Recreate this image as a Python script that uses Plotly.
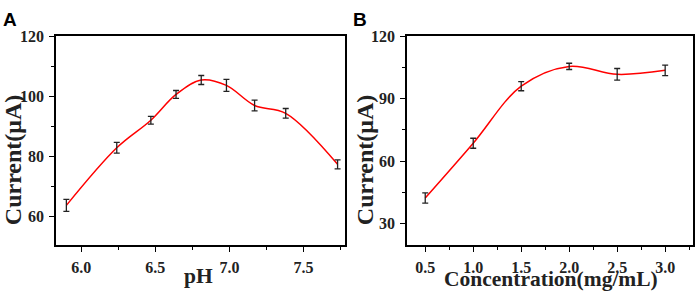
import plotly.graph_objects as go

# Panel A data
ph = [5.9, 6.24, 6.47, 6.64, 6.81, 6.98, 7.17, 7.38, 7.73]
cur_a = [63.6, 82.8, 92.0, 100.6, 105.4, 103.6, 96.9, 94.3, 77.3]
err_a = [2.0, 1.8, 1.3, 1.3, 1.5, 2.0, 1.8, 1.6, 1.5]

# Panel B data
conc = [0.5, 1.0, 1.5, 2.0, 2.5, 3.0]
cur_b = [42.3, 68.6, 96.0, 105.5, 101.7, 103.6]
err_b = [2.5, 2.4, 2.2, 1.5, 2.8, 2.5]

xticks_a = [6.0, 6.5, 7.0, 7.5]
yticks_a = [60, 80, 100, 120]
xticks_b = [0.5, 1.0, 1.5, 2.0, 2.5, 3.0]
yticks_b = [30, 60, 90, 120]

W, H = 699, 291
serif = "Liberation Serif"

fig = go.Figure()

def add_panel(x, y, e, xa, ya):
    fig.add_trace(go.Scatter(x=x, y=y, mode="lines", line=dict(color="#ff0000", width=1.5, shape="spline", smoothing=1.0),
                             xaxis=xa, yaxis=ya, hoverinfo="skip", showlegend=False))
    fig.add_trace(go.Scatter(x=x, y=y, mode="markers", marker=dict(size=1, color="rgba(0,0,0,0)"),
                             error_y=dict(type="data", array=e, visible=True, color="#222222", thickness=1.3, width=3),
                             xaxis=xa, yaxis=ya, showlegend=False))

add_panel(ph, cur_a, err_a, "x", "y")
add_panel(conc, cur_b, err_b, "x2", "y2")

def ax(domain, rng, tickvals, fmt, anchor, minor_d):
    return dict(domain=domain, range=rng, tickvals=tickvals, ticktext=[fmt.format(v) for v in tickvals],
                anchor=anchor, showgrid=False, zeroline=False, showline=True, linecolor="black", linewidth=1.5,
                mirror=True, ticks="outside", ticklen=5, tickwidth=1.4, tickcolor="black",
                tickfont=dict(family=serif, size=16, color="#222222", weight="bold"),
                minor=dict(dtick=minor_d, ticks="outside", ticklen=3, tickwidth=1.2, tickcolor="black", showgrid=False),
                ticklabelstandoff=2)

ydom = [47 / H, 262 / H]
fig.update_layout(
    width=W, height=H, margin=dict(l=0, r=0, t=0, b=0),
    paper_bgcolor="white", plot_bgcolor="white",
    xaxis=dict(**ax([56 / W, 345 / W], [5.83, 7.78], xticks_a, "{:.1f}", "y", 0.25)),
    yaxis=dict(**ax(ydom, [50.3, 120], yticks_a, "{:d}", "x", 10)),
    xaxis2=dict(**ax([407 / W, 693 / W], [0.31, 3.29], xticks_b, "{:.1f}", "y2", 0.25)),
    yaxis2=dict(**ax(ydom, [19.6, 120], yticks_b, "{:d}", "x2", 15)),
)
fig.layout.xaxis.minor.tick0 = 6.0
fig.layout.xaxis2.minor.tick0 = 0.5
fig.layout.yaxis.minor.tick0 = 60
fig.layout.yaxis2.minor.tick0 = 30

title_font = dict(family=serif, size=21.5, color="#222222", weight="bold")
ytitle_font = dict(family=serif, size=24, color="#222222", weight="bold")
lab_font = dict(family="Liberation Sans", size=19, color="black", weight="bold")
annos = [
    dict(text="pH", x=198, y=276, font=title_font),
    dict(text="Concentration(mg/mL)", x=551, y=278.5, font=title_font),
    dict(text="Current(μA)", x=12.5, y=157, font=ytitle_font, textangle=-90),
    dict(text="Current(μA)", x=364.5, y=157, font=ytitle_font, textangle=-90),
    dict(text="A", x=10, y=12, font=lab_font),
    dict(text="B", x=360, y=12, font=lab_font),
]
for a in annos:
    fig.add_annotation(xref="paper", yref="paper", x=a["x"] / W, y=1 - a["y"] / H, text=a["text"],
                       showarrow=False, font=a["font"], textangle=a.get("textangle", 0),
                       xanchor="center", yanchor="middle")

fig.write_html("out.html", config={"displayModeBar": False},
               post_script="document.body.style.margin='0';document.body.style.padding='0';")
